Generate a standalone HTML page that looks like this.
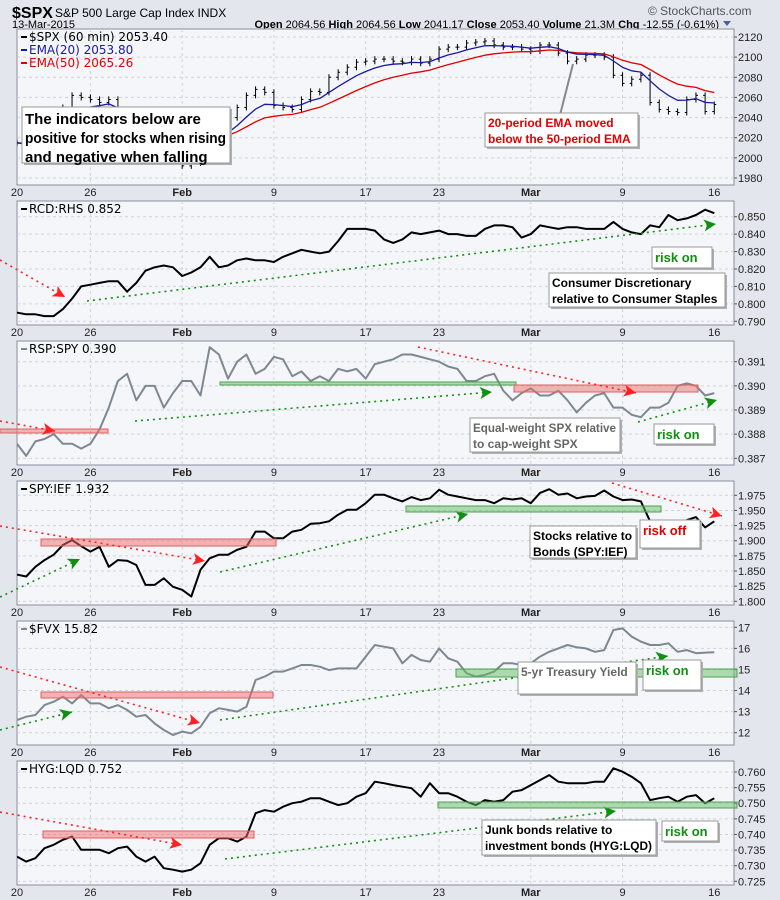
<!DOCTYPE html>
<html><head><meta charset="utf-8"><style>
html,body{margin:0;padding:0;background:#e3e6ed;}
svg{display:block;font-family:"Liberation Sans",sans-serif;}
.ax{font-size:11px;fill:#222;}
.lg{font-size:12px;font-family:"DejaVu Sans","Liberation Sans",sans-serif;}
.an{font-family:"Liberation Sans Narrow","Liberation Sans",sans-serif;font-weight:bold;}
</style></head><body>
<svg id="chart" width="780" height="900" viewBox="0 0 780 900">
<rect x="0" y="0" width="780" height="900" fill="#e3e6ed"/>
<g>
<text x="12" y="18" font-size="16" font-weight="bold">$SPX</text>
<text x="55" y="17" font-size="12">S&amp;P 500 Large Cap Index INDX</text>
<text x="12" y="28" font-size="11">13-Mar-2015</text>
<text x="648" y="15" font-size="12" fill="#555">© StockCharts.com</text>
<text x="719" y="28" font-size="11" text-anchor="end"><tspan font-weight="bold">Open</tspan> 2064.56 <tspan font-weight="bold">High</tspan> 2064.56 <tspan font-weight="bold">Low</tspan> 2041.17 <tspan font-weight="bold">Close</tspan> 2053.40 <tspan font-weight="bold">Volume</tspan> 21.3M <tspan font-weight="bold">Chg</tspan> -12.55 (-0.61%)</text>
<path d="M723 21 L731 21 L727 26 Z" fill="#4a5f9a"/>
</g>
<g id="panels"></g>
<g id="annot"></g>
</svg>
<script>
// ---- data (half-day samples, Jan 20 – Mar 13 2015) ----
const dateLabels = ["20","26","Feb","9","17","23","Mar","9","16"];
const dateDays = [0,4,9,14,19,23,28,33,38];
const spxClose = [2015,2010,2025,2035,2045,2050,2062,2060,2058,2055,2058,2040,2030,2010,2015,2000,2010,2005,1992,1995,2015,2025,2035,2040,2050,2062,2068,2065,2052,2050,2048,2058,2066,2065,2080,2085,2090,2095,2096,2098,2098,2096,2095,2098,2094,2098,2108,2110,2110,2114,2115,2116,2112,2110,2110,2108,2106,2112,2112,2104,2096,2098,2102,2102,2100,2082,2074,2078,2082,2055,2048,2046,2045,2058,2062,2046,2053];
const rcdValues = [.795,.794,.794,.793,.793,.797,.803,.810,.811,.812,.813,.813,.807,.812,.819,.821,.822,.821,.816,.818,.821,.827,.821,.822,.825,.826,.825,.825,.824,.827,.829,.831,.830,.829,.830,.836,.843,.843,.843,.842,.837,.835,.837,.841,.840,.841,.842,.840,.840,.839,.839,.843,.845,.845,.844,.838,.840,.845,.844,.843,.844,.844,.843,.843,.843,.847,.843,.841,.840,.845,.844,.851,.848,.849,.851,.854,.852];
const rspValues = [.3876,.3871,.3877,.3878,.3880,.3876,.3876,.3874,.3876,.3882,.3891,.3902,.3905,.3894,.3900,.3900,.3891,.3897,.3902,.3902,.3896,.3916,.3913,.3903,.3910,.3913,.3905,.3907,.3912,.3911,.3904,.3906,.3902,.3904,.3902,.3907,.3906,.3907,.3903,.3909,.3910,.3911,.3913,.3913,.3912,.3911,.3910,.3908,.3907,.3902,.3902,.3904,.3905,.3898,.3894,.3897,.3899,.3896,.3896,.3898,.3894,.3889,.3893,.3896,.3897,.3891,.3891,.3888,.3887,.3891,.3891,.3893,.3900,.3901,.3900,.3896,.3897];
const spyIefValues = [1.844,1.841,1.857,1.868,1.877,1.893,1.901,1.891,1.882,1.890,1.857,1.868,1.867,1.860,1.827,1.827,1.838,1.824,1.819,1.808,1.852,1.871,1.877,1.877,1.885,1.890,1.915,1.915,1.904,1.904,1.915,1.918,1.928,1.929,1.932,1.943,1.951,1.951,1.962,1.976,1.976,1.970,1.965,1.972,1.967,1.970,1.984,1.976,1.973,1.970,1.967,1.967,1.962,1.970,1.968,1.970,1.962,1.979,1.985,1.976,1.978,1.970,1.973,1.974,1.983,1.973,1.967,1.968,1.965,1.932,1.929,1.926,1.922,1.934,1.939,1.922,1.932];
const fvxValues = [12.60,12.76,12.84,13.31,13.47,13.71,13.39,13.79,13.39,13.39,13.16,13.31,13.08,12.76,12.84,12.44,12.13,11.89,12.05,11.97,12.28,12.92,13.16,13.08,13.00,13.23,14.50,14.66,14.90,14.90,15.05,15.21,15.21,15.13,14.97,15.05,15.05,15.05,15.61,16.16,16.08,16.00,15.29,15.69,15.45,15.37,16.00,15.53,15.37,14.82,14.66,14.74,14.90,15.29,15.29,15.21,15.29,15.61,15.84,16.00,16.16,16.05,16.00,15.84,15.92,16.87,16.95,16.56,16.32,16.16,16.16,16.24,15.84,15.92,15.77,15.80,15.82];
const hygValues = [.7329,.7313,.7324,.7356,.7367,.7383,.7393,.7351,.7351,.7351,.7340,.7356,.7361,.7329,.7313,.7329,.7292,.7287,.7281,.7287,.7308,.7367,.7388,.7388,.7377,.7393,.7468,.7478,.7473,.7489,.7500,.7505,.7516,.7516,.7505,.7494,.7500,.7521,.7532,.7569,.7564,.7558,.7553,.7548,.7521,.7564,.7532,.7532,.7521,.7505,.7494,.7510,.7505,.7510,.7537,.7542,.7558,.7574,.7590,.7569,.7564,.7564,.7564,.7569,.7569,.7612,.7601,.7585,.7564,.7510,.7516,.7521,.7505,.7521,.7526,.7500,.7516];
const spxTicks = [1980,2000,2020,2040,2060,2080,2100,2120];
const rcdTicks = [.790,.800,.810,.820,.830,.840,.850];
const rspTicks = [.387,.388,.389,.390,.391];
const spyIefTicks = [1.800,1.825,1.850,1.875,1.900,1.925,1.950,1.975];
const fvxTicks = [12,13,14,15,16,17];
const hygTicks = [.725,.730,.735,.740,.745,.750,.755,.760];

const NS="http://www.w3.org/2000/svg";
const X0=17, X1=734, DAYPX=18.35;
function xDay(d){return X0+d*DAYPX;}
function xIdx(i){return xDay(i*0.5);}
function mk(tag,attrs,parent){const e=document.createElementNS(NS,tag);for(const k in attrs)e.setAttribute(k,attrs[k]);parent.appendChild(e);return e;}
const panelsG=document.getElementById('panels');

function makeY(v1,p1,v2,p2){return v=>p1+(v-v1)*(p2-p1)/(v2-v1);}
const panels=[
 {name:'spx',top:29,bot:185,y:makeY(2120,37,1980,178),ticks:spxTicks,fmt:v=>String(v)},
 {name:'rcd-rhs',top:201,bot:325,y:makeY(.850,216.7,.790,321.3),ticks:rcdTicks,fmt:v=>v.toFixed(3)},
 {name:'rsp-spy',top:341,bot:465,y:makeY(.391,361.7,.387,458.3),ticks:rspTicks,fmt:v=>v.toFixed(3)},
 {name:'spy-ief',top:481,bot:605,y:makeY(1.975,495.3,1.800,601.3),ticks:spyIefTicks,fmt:v=>v.toFixed(3)},
 {name:'fvx',top:621,bot:745,y:makeY(17,627.3,12,732.7),ticks:fvxTicks,fmt:v=>String(v)},
 {name:'hyg-lqd',top:761,bot:885,y:makeY(.760,772,.725,881.3),ticks:hygTicks,fmt:v=>v.toFixed(3)}
];

panels.forEach((p,pi)=>{
 const g=mk('g',{},panelsG);
 
 
 const bg=mk('rect',{x:X0,y:p.top,width:X1-X0,height:p.bot-p.top,fill:'#f5f6fa',stroke:'#8a8f9c','stroke-width':1},g);
 
 
 const cp=mk('clipPath',{id:'clip'+pi},g);
 mk('rect',{x:X0,y:p.top,width:X1-X0,height:p.bot-p.top},cp);
 p.ticks.forEach(t=>{
  const yy=p.y(t);
  const gl=mk('line',{x1:X0,x2:X1,y1:yy,y2:yy,stroke:'#cfd2da','stroke-dasharray':'3,3'},g);
  
  
  mk('line',{x1:X1,x2:X1+3,y1:yy,y2:yy,stroke:'#555'},g);
  const tx=mk('text',{x:X1+4,y:yy+4,class:'ax'},g);
  tx.textContent=p.fmt(t);
  
  
 });
 dateDays.forEach((d,k)=>{
  const xx=xDay(d);
  if(k>0&&k<dateDays.length-1){
   const gl=mk('line',{x1:xx,x2:xx,y1:p.top,y2:p.bot,stroke:'#cfd2da','stroke-dasharray':'3,3'},g);
   
   
  }
  const bold=/[A-Za-z]/.test(dateLabels[k]);
  const tx=mk('text',{x:xx,y:p.bot+11,class:'ax','text-anchor':'middle','font-weight':bold?'bold':'normal'},g);
  tx.textContent=dateLabels[k];
  
  
 });
 p.g=g;
});

function linePath(vals,yf){return vals.map((v,i)=>(i?'L':'M')+xIdx(i).toFixed(1)+' '+yf(v).toFixed(1)).join(' ');}
function addLine(pi,vals,color,w,name){
 const p=panels[pi];
 const e=mk('path',{d:linePath(vals,p.y),fill:'none',stroke:color,'stroke-width':w,'stroke-linejoin':'round','clip-path':'url(#clip'+pi+')'},p.g);
 
 
}
function ema(vals,n){const a=2/(n+1);let e=vals[0];return vals.map(v=>e=e+a*(v-e));}

(function(){
 const p=panels[0];
 const bg=mk('g',{'clip-path':'url(#clip0)'},p.g);
 
 
 spxClose.forEach((c,i)=>{
  const o=i?spxClose[i-1]:c;
  const hi=Math.max(o,c)+3, lo=Math.min(o,c)-3, x=xIdx(i);
  const b=mk('path',{d:`M${x} ${p.y(hi)} L${x} ${p.y(lo)} M${x-2} ${p.y(o)} L${x} ${p.y(o)} M${x} ${p.y(c)} L${x+2} ${p.y(c)}`,stroke:'#000','stroke-width':1,fill:'none'},bg);
  
  
 });
})();
addLine(0,ema(spxClose,14),'#e00000',1.3,'ema50-line');
addLine(0,ema(spxClose,6),'#1a1aa0',1.3,'ema20-line');
addLine(1,rcdValues,'#000',2,'rcd-rhs-line');
addLine(2,rspValues,'#7d8891',2,'rsp-spy-line');
addLine(3,spyIefValues,'#000',2,'spy-ief-line');
addLine(4,fvxValues,'#7d8891',2,'fvx-line');
addLine(5,hygValues,'#000',2,'hyg-lqd-line');

function legend(pi,items){
 const p=panels[pi];
 items.forEach((it,k)=>{
  const y=p.top+12+k*13;
  mk('line',{x1:21,x2:27,y1:y-4,y2:y-4,stroke:it[1],'stroke-width':2},p.g);
  const t=mk('text',{x:29,y:y,class:'lg',fill:it[2]||'#000'},p.g);
  t.textContent=it[0];
  
  
 });
}
legend(0,[['$SPX (60 min) 2053.40','#000'],['EMA(20) 2053.80','#1a1aa0','#1a1aa0'],['EMA(50) 2065.26','#e00000','#e00000']]);
legend(1,[['RCD:RHS 0.852','#000']]);
legend(2,[['RSP:SPY 0.390','#7d8891']]);
legend(3,[['SPY:IEF 1.932','#000']]);
legend(4,[['$FVX 15.82','#7d8891']]);
legend(5,[['HYG:LQD 0.752','#000']]);

const A=document.getElementById('annot');


function band(x,y,w,h,c,name){const e=mk('rect',{x:x,y:y,width:w,height:h,fill:c==='r'?'rgba(240,110,110,0.5)':'rgba(100,190,100,0.5)',stroke:c==='r'?'#e06060':'#50a050','stroke-width':1},A);}
function arrow(x1,y1,x2,y2,c,name){
 const col=c==='r'?'#ff2020':'#109010';
 const e=mk('line',{x1:x1,y1:y1,x2:x2,y2:y2,stroke:col,'stroke-width':1.6,'stroke-dasharray':'2,4'},A);
 
 
 const a=Math.atan2(y2-y1,x2-x1),L=12,W=6;
 const bx=x2-L*Math.cos(a),by=y2-L*Math.sin(a);
 const h=mk('path',{d:`M${x2} ${y2} L${bx+W*Math.sin(a)} ${by-W*Math.cos(a)} L${bx+3*Math.cos(a)} ${by+3*Math.sin(a)} L${bx-W*Math.sin(a)} ${by+W*Math.cos(a)} Z`,fill:col},A);
 
 
}
function box(x,y,w,h,lines,color,size,name){
 mk('rect',{x:x+2,y:y+2,width:w,height:h,fill:'#b0b0b0'},A);
 const r=mk('rect',{x:x,y:y,width:w,height:h,fill:'#fff',stroke:'#999'},A);
 
 
 lines.forEach((l,k)=>{
  const t=mk('text',{x:x+3,y:y+size+2+k*(size+4),class:'an',fill:color,'font-size':size},A);
  t.textContent=l;
  
  
  const max=w-7;
  if(t.getComputedTextLength()>max){t.setAttribute('textLength',max);t.setAttribute('lengthAdjust','spacingAndGlyphs');}
 });
}
box(22,107,208,56,['The indicators below are','positive for stocks when rising','and negative when falling'],'#000',15,'indicators-note');
mk('path',{d:'M560 115 L573 64',stroke:'#888','stroke-width':2},A);
box(485,113,153,34,['20-period EMA moved','below the 50-period EMA'],'#e00000',12,'ema-cross-note');
arrow(0,260,65,297,'r','rcd-red-arrow');
arrow(87,301,716,224,'g','rcd-green-trend');
box(652,247,60,21,['risk on'],'#109010',13,'rcd-risk-on');
box(549,273,176,34,['Consumer Discretionary','relative to Consumer Staples'],'#000',12,'rcd-note');
band(0,429,108,4,'r','rsp-red-band');
arrow(0,421,55,431,'r','rsp-red-arrow1');
band(220,382,296,3,'g','rsp-green-band');
arrow(135,421,492,392,'g','rsp-green-trend1');
band(514,385,184,7,'r','rsp-red-band2');
arrow(418,347,636,393,'r','rsp-red-arrow2');
arrow(638,422,717,400,'g','rsp-green-trend2');
box(470,418,150,34,['Equal-weight SPX relative','to cap-weight SPX'],'#666',12,'rsp-note');
box(654,424,60,20,['risk on'],'#109010',13,'rsp-risk-on');
band(41,539,235,7,'r','spyief-red-band');
arrow(0,526,205,561,'r','spyief-red-arrow1');
arrow(0,597,80,559,'g','spyief-green-arrow1');
arrow(220,572,468,514,'g','spyief-green-trend');
band(406,506,255,6,'g','spyief-green-band');
arrow(612,483,722,516,'r','spyief-red-arrow2');
box(530,526,106,32,['Stocks relative to','Bonds (SPY:IEF)'],'#000',12,'spyief-note');
box(640,520,60,28,['risk off'],'#e00000',13,'spyief-risk-off');
band(41,692,232,6,'r','fvx-red-band');
arrow(0,667,200,723,'r','fvx-red-arrow');
arrow(0,730,72,712,'g','fvx-green-arrow1');
arrow(220,720,668,656,'g','fvx-green-trend');
band(456,669,281,8,'g','fvx-green-band');
box(518,662,118,32,['5-yr Treasury Yield'],'#666',12,'fvx-note');
box(643,660,58,30,['risk on'],'#109010',13,'fvx-risk-on');
band(43,831,211,7,'r','hyg-red-band');
arrow(0,812,182,845,'r','hyg-red-arrow');
arrow(225,859,616,811,'g','hyg-green-trend');
band(438,802,299,6,'g','hyg-green-band');
box(482,820,174,35,['Junk bonds relative to','investment bonds (HYG:LQD)'],'#000',12,'hyg-note');
box(662,821,56,20,['risk on'],'#109010',13,'hyg-risk-on');
</script>
</body></html>
